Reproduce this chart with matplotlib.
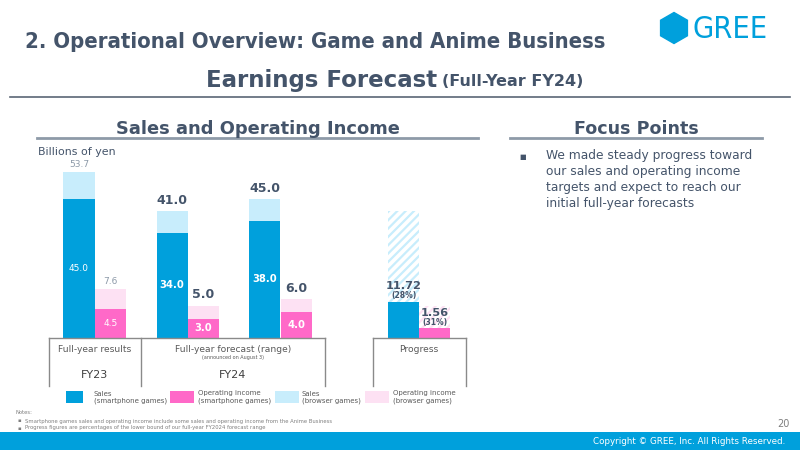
import matplotlib.pyplot as plt
import matplotlib.patches as patches

# data (billions of yen)
periods = ['FY23 results', 'FY24 forecast low', 'FY24 forecast high']
sales_total = [53.7, 41.0, 45.0]
sales_smartphone = [45.0, 34.0, 38.0]
oi_total = [7.6, 5.0, 6.0]
oi_smartphone = [4.5, 3.0, 4.0]

progress_sales = 11.72
progress_oi = 1.56
progress_sales_pct = '(28%)'
progress_oi_pct = '(31%)'
target_sales = sales_total[1]   # lower bound of FY24 range
target_oi = oi_total[1]

legend_labels = ['Sales\n(smartphone games)', 'Operating income\n(smartphone games)',
                 'Sales\n(browser games)', 'Operating income\n(browser games)']

BLUE = '#00a0dc'
PINK = '#ff69c8'
LBLUE = '#c8edfc'
LPINK = '#fde1f3'
DARK = '#44546a'
GRAY = '#8c99a8'

plt.rcParams['font.family'] = ['DejaVu Sans']
plt.rcParams['hatch.linewidth'] = 1.6

fig = plt.figure(figsize=(8, 4.5), dpi=100)

# 棒グラフ (sales: 左軸, operating income: 別スケール)
rect = [40 / 800, 1 - 338 / 450, 440 / 800, 188 / 450]
ax = fig.add_axes(rect)
ax2 = fig.add_axes(rect)
for a in (ax, ax2):
    a.set_xlim(40, 480)
    a.axis('off')
    a.patch.set_alpha(0)
ax.set_ylim(0, 188 / 3.09)
ax2.set_ylim(0, 188 / 6.5)

w = 31
sales_x = [79, 172, 264.5]
oi_x = [110.5, 203.5, 296]
prog_sales_x = 403.5
prog_oi_x = 434.5

browser_sales = [t - s for t, s in zip(sales_total, sales_smartphone)]
browser_oi = [t - s for t, s in zip(oi_total, oi_smartphone)]

ax.bar(sales_x, sales_smartphone, w, color=BLUE, linewidth=0)
ax.bar(sales_x, browser_sales, w, bottom=sales_smartphone, color=LBLUE, linewidth=0)
ax2.bar(oi_x, oi_smartphone, w, color=PINK, linewidth=0)
ax2.bar(oi_x, browser_oi, w, bottom=oi_smartphone, color=LPINK, linewidth=0)

# progress bars with hatched target
ax.bar(prog_sales_x, target_sales, w, facecolor='white', edgecolor=LBLUE, hatch='////', linewidth=0)
ax.bar(prog_sales_x, progress_sales, w, color=BLUE, linewidth=0)
ax2.bar(prog_oi_x, target_oi, w, facecolor='white', edgecolor=LPINK, hatch='////', linewidth=0)
ax2.bar(prog_oi_x, progress_oi, w, color=PINK, linewidth=0)

# value labels
ax.annotate(f'{sales_total[0]:.1f}', (sales_x[0], sales_total[0]), xytext=(0, 2), textcoords='offset points',
            ha='center', va='bottom', fontsize=6.5, color=GRAY)
ax.text(sales_x[0], sales_smartphone[0] / 2, f'{sales_smartphone[0]:.1f}', ha='center', va='center',
        fontsize=6.5, color='white')
ax2.annotate(f'{oi_total[0]:.1f}', (oi_x[0], oi_total[0]), xytext=(0, 2), textcoords='offset points',
             ha='center', va='bottom', fontsize=6.5, color=GRAY)
ax2.text(oi_x[0], oi_smartphone[0] / 2, f'{oi_smartphone[0]:.1f}', ha='center', va='center',
         fontsize=6.5, color='white')
for i in (1, 2):
    ax.annotate(f'{sales_total[i]:.1f}', (sales_x[i], sales_total[i]), xytext=(0, 3), textcoords='offset points',
                ha='center', va='bottom', fontsize=9, fontweight='bold', color=DARK)
    ax.text(sales_x[i], sales_smartphone[i] / 2, f'{sales_smartphone[i]:.1f}', ha='center', va='center',
            fontsize=7.2, fontweight='bold', color='white')
    ax2.annotate(f'{oi_total[i]:.1f}', (oi_x[i], oi_total[i]), xytext=(0, 3), textcoords='offset points',
                 ha='center', va='bottom', fontsize=9, fontweight='bold', color=DARK)
    ax2.text(oi_x[i], oi_smartphone[i] / 2, f'{oi_smartphone[i]:.1f}', ha='center', va='center',
             fontsize=7.2, fontweight='bold', color='white')

ax.annotate(f'{progress_sales:.2f}', (prog_sales_x, progress_sales), xytext=(0, 11.5), textcoords='offset points',
            ha='center', va='center', fontsize=8.2, fontweight='bold', color=DARK)
ax.annotate(progress_sales_pct, (prog_sales_x, progress_sales), xytext=(0, 4.3), textcoords='offset points',
            ha='center', va='center', fontsize=5.5, fontweight='bold', color=DARK)
ax2.annotate(f'{progress_oi:.2f}', (prog_oi_x, progress_oi), xytext=(0, 11), textcoords='offset points',
             ha='center', va='center', fontsize=8.2, fontweight='bold', color=DARK)
ax2.annotate(progress_oi_pct, (prog_oi_x, progress_oi), xytext=(0, 3.8), textcoords='offset points',
             ha='center', va='center', fontsize=5.5, fontweight='bold', color=DARK)

# スライド全体 (pixel coordinates)
ov = fig.add_axes([0, 0, 1, 1])
ov.set_xlim(0, 800)
ov.set_ylim(450, 0)
ov.axis('off')
ov.patch.set_alpha(0)

# logo
ov.add_patch(patches.RegularPolygon((674, 28), numVertices=6, radius=15.5, orientation=0, color=BLUE))
ov.text(692, 29, 'GREE', fontsize=22, color=BLUE, va='center', ha='left', fontstretch='condensed')

ov.text(25, 42, '2. Operational Overview: Game and Anime Business', fontsize=15.8, fontweight='bold',
        color=DARK, va='center', ha='left', fontstretch='condensed')
ov.text(437, 80, 'Earnings Forecast', fontsize=16.5, fontweight='bold', color=DARK, va='center', ha='right')
ov.text(442, 81, '(Full-Year FY24)', fontsize=11.5, fontweight='bold', color=DARK, va='center', ha='left')
ov.plot([10, 790], [97, 97], color='#5a6675', lw=1.2)

ov.text(258, 129, 'Sales and Operating Income', fontsize=12.9, fontweight='bold', color=DARK, ha='center', va='center')
ov.plot([37, 478], [138, 138], color='#8e9aa8', lw=2)
ov.text(636, 129, 'Focus Points', fontsize=12.6, fontweight='bold', color=DARK, ha='center', va='center')
ov.plot([510, 762], [138, 138], color='#8e9aa8', lw=2)

ov.text(38, 152, 'Billions of yen', fontsize=7.9, color=DARK, va='center', ha='left')

ov.text(523, 157, '■', fontsize=5, color=DARK, va='center', ha='center')
focus = ['We made steady progress toward', 'our sales and operating income',
         'targets and expect to reach our', 'initial full-year forecasts']
for i, line in enumerate(focus):
    ov.text(546, 156 + 16 * i, line, fontsize=8.8, color=DARK, va='center', ha='left')

# category boxes
lc = '#8a8a8a'
ov.plot([49, 325], [338, 338], color=lc, lw=1)
ov.plot([373, 466], [338, 338], color=lc, lw=1)
for xv in (49, 141, 325, 373, 466):
    ov.plot([xv, xv], [338, 386], color=lc, lw=1)
ov.text(95, 350, 'Full-year results', fontsize=6.6, color='#595959', ha='center', va='center')
ov.text(95, 375, 'FY23', fontsize=8, color='#404040', ha='center', va='center')
ov.text(233, 349, 'Full-year forecast (range)', fontsize=6.6, color='#595959', ha='center', va='center')
ov.text(233, 357, '(announced on August 3)', fontsize=3.5, color='#595959', ha='center', va='center')
ov.text(233, 375, 'FY24', fontsize=8, color='#404040', ha='center', va='center')
ov.text(419, 350, 'Progress', fontsize=6.6, color='#595959', ha='center', va='center')

# legend
leg_x = [66, 170, 275, 365]
txt_x = [94, 198, 302, 393]
for lx, tx, col, lab in zip(leg_x, txt_x, [BLUE, PINK, LBLUE, LPINK], legend_labels):
    ov.add_patch(patches.Rectangle((lx, 391), 24 if lx > 100 else 17, 12, color=col, lw=0))
    ov.text(tx, 397, lab, fontsize=5.0, color='#595959', ha='left', va='center', linespacing=1.1)

# notes and footer
ov.text(16, 413, 'Notes:', fontsize=3.8, color='#7f7f7f', va='center')
notes = ['Smartphone games sales and operating income include some sales and operating income from the Anime Business',
         'Progress figures are percentages of the lower bound of our full-year FY2024 forecast range']
for i, n in enumerate(notes):
    ov.text(18, 421 + 7 * i, '▪', fontsize=3.8, color='#7f7f7f', va='center')
    ov.text(25, 421 + 7 * i, n, fontsize=3.8, color='#7f7f7f', va='center')
ov.text(783, 424, '20', fontsize=7, color='#7f7f7f', va='center', ha='center')
ov.add_patch(patches.Rectangle((0, 432), 800, 18, color=BLUE, lw=0))
ov.text(785, 442, 'Copyright © GREE, Inc. All Rights Reserved.', fontsize=6.3, color='white', va='center', ha='right')

fig.savefig('out.png', dpi=100)
